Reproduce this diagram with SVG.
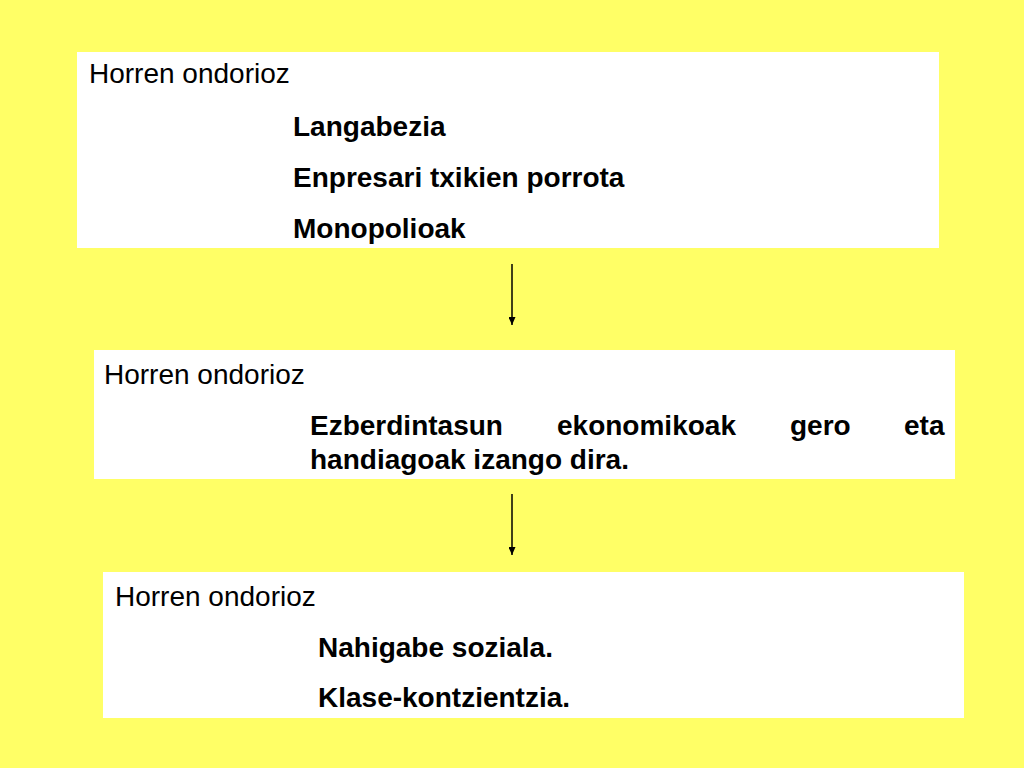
<svg xmlns="http://www.w3.org/2000/svg" width="1024" height="768" viewBox="0 0 1024 768">
<defs>
<style>
.box{fill:#ffffff;}
.t{font-family:"Liberation Sans",Arial,sans-serif;font-size:28px;fill:#000;}
.b{font-family:"Liberation Sans",Arial,sans-serif;font-size:28px;font-weight:bold;fill:#000;}
.c{stroke:#000;stroke-width:1.5;fill:none;}
</style>
<marker id="ah" viewBox="0 0 8 7" refX="8" refY="3.5" markerWidth="8" markerHeight="7" orient="auto" markerUnits="userSpaceOnUse">
<path d="M0,0 L8,3.5 L0,7 z" fill="#000"/>
</marker>
</defs>
<rect width="1024" height="768" fill="#ffff66"/>
<g id="node1">
<rect class="box" x="77" y="52" width="862" height="196"/>
<text class="t" x="89" y="83">Horren ondorioz</text>
<text class="b" x="293" y="136">Langabezia</text>
<text class="b" x="293" y="187">Enpresari txikien porrota</text>
<text class="b" x="293" y="238">Monopolioak</text>
</g>
<g id="node2">
<rect class="box" x="94" y="350" width="861" height="129"/>
<text class="t" x="104" y="384">Horren ondorioz</text>
<text class="b" y="435"><tspan x="310">Ezberdintasun</tspan><tspan x="557">ekonomikoak</tspan><tspan x="790">gero</tspan><tspan x="904">eta</tspan></text>
<text class="b" x="310" y="469">handiagoak izango dira.</text>
</g>
<g id="node3">
<rect class="box" x="103" y="572" width="861" height="146"/>
<text class="t" x="115" y="606">Horren ondorioz</text>
<text class="b" x="318" y="657">Nahigabe soziala.</text>
<text class="b" x="318" y="707">Klase-kontzientzia.</text>
</g>
<g id="connectors">
<line class="c" x1="512" y1="264" x2="512" y2="325" marker-end="url(#ah)"/>
<line class="c" x1="512" y1="494" x2="512" y2="555" marker-end="url(#ah)"/>
</g>
</svg>
